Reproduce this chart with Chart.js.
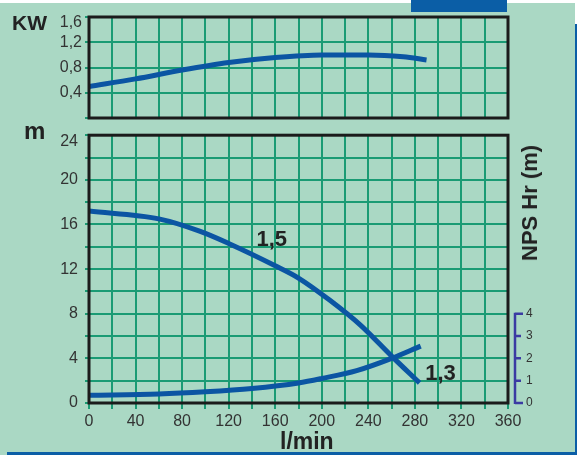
<!DOCTYPE html>
<html>
<head>
<meta charset="utf-8">
<script src="https://cdn.jsdelivr.net/npm/chart.js@4/dist/chart.umd.min.js"></script>
<style>
html, body { margin: 0; padding: 0; }
body { width: 577px; height: 455px; position: relative; overflow: hidden; background: #fff;
       font-family: 'Liberation Sans', Arial, sans-serif; color: #222; }
#panel { position: absolute; left: 0; top: 3px; width: 575px; height: 452px; background: #aad8c4; }
#tab { position: absolute; left: 411px; top: 0; width: 96px; height: 12px; background: #0b5ea6; }
#rightbar { position: absolute; left: 575px; top: 24px; width: 2px; height: 431px; background: #0b5ea6; }
#bottombar { position: absolute; left: 7px; top: 452px; width: 570px; height: 3px; background: #0b5ea6; }
#c1 { position: absolute; left: 0; top: 0; }
#c2 { position: absolute; left: 0; top: 110px; }
.lbl { position: absolute; line-height: 1; white-space: nowrap; color: #222; }
</style>
</head>
<body>
<div id="panel"></div>
<div id="tab"></div>
<div id="rightbar"></div>
<div id="bottombar"></div>
<canvas id="c1" width="577" height="130"></canvas>
<canvas id="c2" width="577" height="345"></canvas>
<div class="lbl" style="left:12px; top:12px; font-size:21px; font-weight:bold;">KW</div>
<div class="lbl" style="left:24px; top:119px; font-size:24px; font-weight:bold;">m</div>
<div class="lbl" style="left:280px; top:430px; font-size:23px; font-weight:bold;">l/min</div>
<div class="lbl" style="left:530px; top:203px; font-size:22px; font-weight:bold; transform: translate(-50%, -50%) rotate(-90deg);">NPS Hr (m)</div>
<script>
// power curve (top panel)
const flowKW = [0, 40, 80, 120, 160, 200, 240, 270, 290];
const kwValues = [0.5, 0.62, 0.76, 0.88, 0.96, 1.0, 1.0, 0.97, 0.92];

// head curve "1,5" (bottom panel, m)
const flowHead = [0, 60, 95, 120, 160, 180, 207, 233, 260, 284];
const headValues = [17.2, 16.5, 15.4, 14.3, 12.3, 11.2, 9.2, 7.0, 4.2, 1.8];

// NPSH curve "1,3" (right axis, m)
const flowNpsh = [0, 60, 100, 140, 180, 200, 230, 260, 285];
const npshValues = [0.35, 0.4, 0.5, 0.65, 0.9, 1.1, 1.45, 2.0, 2.55];

const npshTicks = [0, 1, 2, 3, 4];

const family = "'Liberation Sans', Arial, sans-serif";
const blue = '#0b55a3';
const gridGreen = '#1a9b74';
const navy = '#3b3ba3';

const frame = {
    id: 'frame',
    afterDraw(chart) {
        const { ctx, chartArea: a } = chart;
        ctx.save();
        ctx.strokeStyle = '#1b1b1b';
        ctx.lineWidth = 3;
        ctx.strokeRect(a.left, a.top, a.right - a.left, a.bottom - a.top);
        ctx.restore();
    }
};

const extras = {
    id: 'extras',
    afterDraw(chart) {
        const { ctx } = chart;
        const y2 = chart.scales.y2;
        const xs = chart.scales.x;
        const ys = chart.scales.y;
        const x0 = chart.chartArea.right + 7;

        ctx.save();
        ctx.strokeStyle = navy;
        ctx.lineWidth = 2.5;
        ctx.beginPath();
        ctx.moveTo(x0, y2.getPixelForValue(0) + 1);
        ctx.lineTo(x0, y2.getPixelForValue(4) - 1);
        npshTicks.forEach(v => {
            const py = y2.getPixelForValue(v);
            const end = (v === 0 || v === 4) ? 8 : 6;
            ctx.moveTo(x0, py);
            ctx.lineTo(x0 + end, py);
        });
        ctx.stroke();

        ctx.fillStyle = '#222';
        ctx.font = 'bold 22px ' + family;
        ctx.textAlign = 'center';
        ctx.textBaseline = 'middle';
        ctx.fillText('1,5', xs.getPixelForValue(157), ys.getPixelForValue(14.6));
        ctx.fillText('1,3', xs.getPixelForValue(302), ys.getPixelForValue(2.6));
        ctx.restore();
    }
};

const toPoints = (xs, ys) => xs.map((x, i) => ({ x, y: ys[i] }));

// top label sits a little below the frame edge, as in the print
const pushDown = s => ['', s];

new Chart(document.getElementById('c1'), {
    type: 'line',
    data: {
        datasets: [{
            data: toPoints(flowKW, kwValues),
            borderColor: blue,
            borderWidth: 5,
            pointRadius: 0,
            cubicInterpolationMode: 'monotone',
            fill: false
        }]
    },
    options: {
        responsive: false,
        animation: false,
        events: [],
        layout: { padding: { left: 0, top: 17, right: 69, bottom: 12 } },
        plugins: { legend: { display: false }, tooltip: { enabled: false } },
        scales: {
            x: {
                type: 'linear', min: 0, max: 360,
                ticks: { display: false, stepSize: 20 },
                grid: { color: gridGreen, lineWidth: 2, drawTicks: false },
                border: { display: false },
                afterFit(s) { s.height = 0; }
            },
            y: {
                min: 0, max: 1.6,
                ticks: {
                    stepSize: 0.4,
                    autoSkip: false,
                    color: '#333',
                    font: { size: 16, family, lineHeight: 0.7 },
                    padding: 3,
                    callback: v => {
                        if (v === 0) return '';
                        const t = v.toFixed(1).replace('.', ',');
                        return v === 1.6 ? pushDown(t) : t;
                    }
                },
                grid: { color: gridGreen, lineWidth: 2, tickLength: 4 },
                border: { display: false },
                afterFit(s) { s.width = 89; }
            }
        }
    },
    plugins: [frame]
});

new Chart(document.getElementById('c2'), {
    type: 'line',
    data: {
        datasets: [{
            data: toPoints(flowHead, headValues),
            yAxisID: 'y',
            borderColor: blue,
            borderWidth: 5,
            pointRadius: 0,
            cubicInterpolationMode: 'monotone',
            fill: false
        }, {
            data: toPoints(flowNpsh, npshValues),
            yAxisID: 'y2',
            borderColor: blue,
            borderWidth: 5,
            pointRadius: 0,
            cubicInterpolationMode: 'monotone',
            fill: false
        }]
    },
    options: {
        responsive: false,
        animation: false,
        events: [],
        layout: { padding: { left: 0, top: 18, right: 0, bottom: 0 } },
        plugins: { legend: { display: false }, tooltip: { enabled: false } },
        scales: {
            x: {
                type: 'linear', min: 0, max: 360,
                ticks: {
                    stepSize: 20,
                    autoSkip: false,
                    maxRotation: 0,
                    color: '#333',
                    font: { size: 16, family },
                    padding: 3,
                    callback: v => v % 40 === 0 ? String(v) : ''
                },
                grid: { color: gridGreen, lineWidth: 2, tickLength: 6 },
                border: { display: false },
                afterFit(s) { s.height = 52; }
            },
            y: {
                min: 0, max: 24,
                ticks: {
                    stepSize: 2,
                    autoSkip: false,
                    color: '#333',
                    font: { size: 16, family, lineHeight: 0.75 },
                    padding: 7,
                    callback: v => {
                        if (v % 4 !== 0) return '';
                        return v === 24 ? pushDown(String(v)) : String(v);
                    }
                },
                grid: { color: gridGreen, lineWidth: 2, tickLength: 4 },
                border: { display: false },
                afterFit(s) { s.width = 89; }
            },
            y2: {
                position: 'right',
                min: 0, max: 12,
                afterBuildTicks(s) { s.ticks = npshTicks.map(v => ({ value: v })); },
                ticks: { color: '#333', font: { size: 12, family }, padding: 18 },
                grid: { display: false, drawTicks: false },
                border: { display: false },
                afterFit(s) { s.width = 69; }
            }
        }
    },
    plugins: [frame, extras]
});
</script>
</body>
</html>
